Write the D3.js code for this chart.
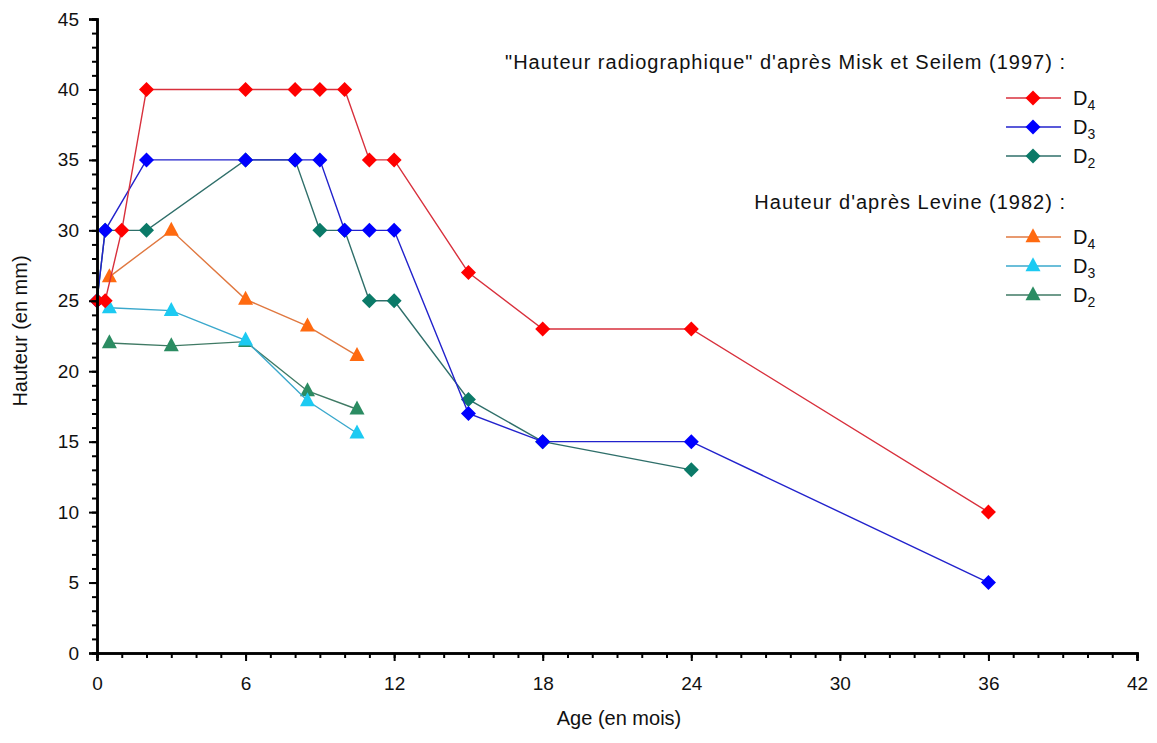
<!DOCTYPE html>
<html>
<head>
<meta charset="utf-8">
<script src="https://cdn.jsdelivr.net/npm/d3@7"></script>
<style>
  html, body { margin: 0; padding: 0; background: #ffffff; }
  svg text { font-family: Arial, "Liberation Sans", sans-serif; fill: #111; }
</style>
</head>
<body>
<svg id="chart" width="1157" height="743"></svg>
<script>
// ---------- DATA ----------
const miskD4X = [0, 0.33, 1, 2, 6, 8, 9, 10, 11, 12, 15, 18, 24, 36];
const miskD4Y = [25, 25, 30, 40, 40, 40, 40, 40, 35, 35, 27, 23, 23, 10];
const miskD3X = [0, 0.33, 2, 6, 8, 9, 10, 11, 12, 15, 18, 24, 36];
const miskD3Y = [25, 30, 35, 35, 35, 35, 30, 30, 30, 17, 15, 15, 5];
const miskD2X = [0, 0.33, 2, 6, 8, 9, 10, 11, 12, 15, 18, 24];
const miskD2Y = [25, 30, 30, 35, 35, 30, 30, 25, 25, 18, 15, 13];

const levineX = [0.5, 3, 6, 8.5, 10.5];
const levineD4Y = [26.7, 30, 25.1, 23.2, 21.1];
const levineD3Y = [24.5, 24.3, 22.2, 17.9, 15.6];
const levineD2Y = [22, 21.8, 22.1, 18.6, 17.3];

const xTicks = [0, 6, 12, 18, 24, 30, 36, 42];
const yTicks = [0, 5, 10, 15, 20, 25, 30, 35, 40, 45];
const xTitle = "Age (en mois)";
const yTitle = "Hauteur (en mm)";
const legendTitle1 = "\"Hauteur radiographique\" d'après Misk et Seilem (1997) :";
const legendTitle2 = "Hauteur d'après Levine (1982) :";

// ---------- SETUP ----------
const svg = d3.select("#chart");
const x = d3.scaleLinear().domain([0, 42]).range([97, 1137]);
const y = d3.scaleLinear().domain([0, 45]).range([653, 19]);

const diamond = r => `M0,${-r}L${r},0L0,${r}L${-r},0Z`;
const triangle = (w, h) => `M0,${-h * 0.62}L${w / 2},${h * 0.38}L${-w / 2},${h * 0.38}Z`;

const series = [
  { label: "2", xs: miskD2X, ys: miskD2Y, line: "#2f6f6a", fill: "#0b7a68", shape: "d" },
  { label: "3", xs: miskD3X, ys: miskD3Y, line: "#2222cc", fill: "#0000ff", shape: "d" },
  { label: "4", xs: miskD4X, ys: miskD4Y, line: "#d8303c", fill: "#ff0000", shape: "d" },
];
const levSeries = [
  { label: "2", xs: levineX, ys: levineD2Y, line: "#3f7a64", fill: "#2b8c62", shape: "t" },
  { label: "3", xs: levineX, ys: levineD3Y, line: "#3aa8cc", fill: "#1ccaf2", shape: "t" },
  { label: "4", xs: levineX, ys: levineD4Y, line: "#e07840", fill: "#ff6a10", shape: "t" },
];

const lineGen = d3.line().x(d => x(d[0])).y(d => y(d[1]));

function drawSeries(s) {
  const pts = s.xs.map((v, i) => [v, s.ys[i]]);
  const g = svg.append("g");
  g.append("path").attr("d", lineGen(pts)).attr("fill", "none")
    .attr("stroke", s.line).attr("stroke-width", 1.4);
  g.selectAll("path.m").data(pts).enter().append("path").attr("class", "m")
    .attr("transform", d => `translate(${x(d[0])},${y(d[1])})`)
    .attr("d", s.shape === "d" ? diamond(7.5) : triangle(15, 14))
    .attr("fill", s.fill);
}
levSeries.forEach(drawSeries);
series.forEach(drawSeries);

// ---------- AXES ----------
const xMinor = d3.axisBottom(x).tickValues(d3.range(0, 43, 1)).tickSize(5).tickFormat("");
const xMajor = d3.axisBottom(x).tickValues(xTicks).tickSize(8).tickPadding(16);
const yMinor = d3.axisLeft(y).tickValues(d3.range(0, 46, 1)).tickSize(5).tickFormat("");
const yMajor = d3.axisLeft(y).tickValues(yTicks).tickSize(8).tickPadding(10);

function styleAxis(g) {
  g.selectAll("path.domain").attr("stroke", "#000").attr("stroke-width", 2.5);
  g.selectAll(".tick line").attr("stroke", "#000").attr("stroke-width", 2);
  g.selectAll(".tick text").attr("font-size", 19).attr("fill", "#111")
    .attr("font-family", "Arial, 'Liberation Sans', sans-serif");
}
svg.append("g").attr("transform", `translate(0,${y(0)})`).call(xMinor).call(styleAxis);
svg.append("g").attr("transform", `translate(0,${y(0)})`).call(xMajor).call(styleAxis);
svg.append("g").attr("transform", `translate(${x(0)},0)`).call(yMinor).call(styleAxis);
svg.append("g").attr("transform", `translate(${x(0)},0)`).call(yMajor).call(styleAxis);

svg.append("text").attr("x", 619).attr("y", 725).attr("text-anchor", "middle")
  .attr("font-size", 20).text(xTitle);
svg.append("text").attr("transform", "translate(27,331) rotate(-90)")
  .attr("text-anchor", "middle").attr("font-size", 20).text(yTitle);

// ---------- LEGEND ----------
const lg = svg.append("g");
lg.append("text").attr("x", 1066).attr("y", 69).attr("text-anchor", "end")
  .attr("font-size", 20).attr("letter-spacing", 1).text(legendTitle1);
lg.append("text").attr("x", 1066).attr("y", 209).attr("text-anchor", "end")
  .attr("font-size", 20).attr("letter-spacing", 1).text(legendTitle2);

const legendRows = [
  { s: series[2], yy: 98 }, { s: series[1], yy: 127 }, { s: series[0], yy: 156 },
  { s: levSeries[2], yy: 237 }, { s: levSeries[1], yy: 266 }, { s: levSeries[0], yy: 295 },
];
legendRows.forEach(r => {
  lg.append("line").attr("x1", 1006).attr("x2", 1061).attr("y1", r.yy).attr("y2", r.yy)
    .attr("stroke", r.s.line).attr("stroke-width", 1.6);
  lg.append("path").attr("transform", `translate(1033,${r.yy})`)
    .attr("d", r.s.shape === "d" ? diamond(7.5) : triangle(15, 14)).attr("fill", r.s.fill);
  const t = lg.append("text").attr("x", 1073).attr("y", r.yy + 7).attr("font-size", 20);
  t.append("tspan").text("D");
  t.append("tspan").attr("dy", 5).attr("font-size", 14).text(r.s.label);
});
</script>
</body>
</html>
